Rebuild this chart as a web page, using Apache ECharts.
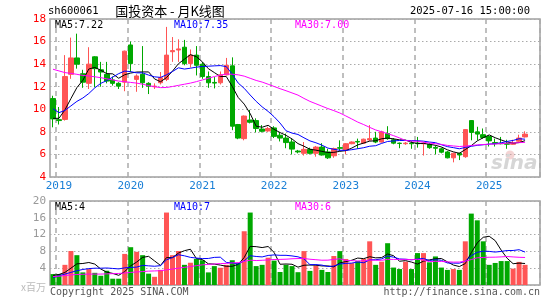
<!DOCTYPE html>
<html><head><meta charset="utf-8">
<script src="https://cdn.jsdelivr.net/npm/echarts/dist/echarts.min.js"></script>
<style>html,body{margin:0;padding:0;background:#fff}#c{width:545px;height:300px}</style>
</head><body><div id="c"></div>
<script>
const months = [
 '2018-12',
 '2019-01','2019-02','2019-03','2019-04','2019-05','2019-06','2019-07','2019-08','2019-09','2019-10','2019-11','2019-12',
 '2020-01','2020-02','2020-03','2020-04','2020-05','2020-06','2020-07','2020-08','2020-09','2020-10','2020-11','2020-12',
 '2021-01','2021-02','2021-03','2021-04','2021-05','2021-06','2021-07','2021-08','2021-09','2021-10','2021-11','2021-12',
 '2022-01','2022-02','2022-03','2022-04','2022-05','2022-06','2022-07','2022-08','2022-09','2022-10','2022-11','2022-12',
 '2023-01','2023-02','2023-03','2023-04','2023-05','2023-06','2023-07','2023-08','2023-09','2023-10','2023-11','2023-12',
 '2024-01','2024-02','2024-03','2024-04','2024-05','2024-06','2024-07','2024-08','2024-09','2024-10','2024-11','2024-12',
 '2025-01','2025-02','2025-03','2025-04','2025-05','2025-06','2025-07'];

const opens = [10.95, 9.08, 9.1, 13.1, 14.55, 13.15, 12.3, 14.65, 13.5, 13.1,
 12.6, 12.3, 12.4, 15.7, 12.65, 13.1, 12.3, 12.0, 12.35, 12.65,
 15.1, 15.25, 15.5, 14.05, 14.8, 14.0, 12.9, 12.38, 12.35, 13.05,
 13.85, 8.65, 7.4, 9.05, 9.0, 8.25, 8.08, 8.35, 7.7, 7.45,
 7.1, 6.3, 6.1, 6.45, 6.1, 6.65, 6.22, 5.88, 6.6, 6.4,
 6.95, 7.15, 7.0, 7.28, 7.45, 7.1, 7.85, 7.3, 7.0, 6.95,
 7.0, 7.0, 6.95, 6.9, 6.62, 6.5, 6.22, 5.7, 6.1, 5.8,
 9.0, 8.0, 7.75, 7.6, 7.05, 6.98, 6.97, 6.9, 7.17, 7.55];
const closes = [9.15, 9.0, 12.9, 14.55, 14.0, 12.4, 14.0, 13.6, 13.3, 12.5,
 12.3, 12.05, 15.15, 14.05, 12.95, 12.35, 12.05, 12.05, 12.8, 14.8,
 15.2, 15.35, 14.05, 14.8, 13.9, 12.9, 12.35, 12.32, 13.05, 13.9,
 8.5, 7.45, 9.4, 8.85, 8.3, 8.05, 8.3, 7.6, 7.45, 7.05,
 6.47, 6.22, 6.45, 6.1, 6.65, 5.95, 5.7, 6.52, 6.55, 6.95,
 7.1, 7.1, 7.35, 7.4, 7.1, 8.0, 7.4, 7.0, 6.97, 7.0,
 6.95, 6.95, 7.0, 6.6, 6.55, 6.2, 5.7, 6.1, 5.95, 8.2,
 7.95, 7.8, 7.5, 7.2, 6.95, 6.95, 6.9, 7.0, 7.45, 7.8];
const lows = [8.4, 8.65, 9.0, 12.7, 13.6, 11.9, 11.8, 11.95, 12.0, 12.3,
 12.1, 11.8, 11.6, 13.3, 11.55, 11.9, 11.35, 11.8, 12.2, 12.5,
 14.2, 14.2, 13.9, 13.7, 13.0, 12.7, 11.9, 11.85, 12.2, 13.0,
 8.15, 7.35, 7.25, 8.75, 7.95, 7.95, 8.0, 7.45, 7.15, 6.55,
 6.0, 6.1, 5.9, 6.0, 5.8, 5.9, 5.6, 5.7, 6.3, 6.0,
 6.9, 6.5, 6.95, 7.2, 7.0, 7.05, 7.3, 6.9, 6.55, 6.85,
 6.5, 6.6, 5.9, 6.5, 6.0, 6.1, 5.65, 5.3, 5.5, 5.7,
 7.25, 7.25, 7.4, 6.7, 6.7, 6.9, 6.5, 6.85, 7.1, 7.5];
const highs = [11.2, 10.2, 14.8, 16.35, 16.7, 13.5, 15.5, 14.7, 14.2, 14.2,
 12.9, 12.4, 15.2, 16.0, 13.1, 15.6, 12.4, 12.3, 13.3, 17.3,
 16.4, 16.2, 16.15, 15.3, 15.6, 14.2, 13.35, 12.85, 13.35, 14.55,
 14.6, 8.7, 9.45, 9.95, 9.2, 8.6, 8.45, 8.5, 7.95, 7.85,
 7.4, 6.4, 7.1, 6.6, 6.75, 7.0, 6.5, 6.6, 7.25, 7.0,
 7.15, 7.4, 7.4, 8.6, 8.0, 8.1, 8.5, 7.45, 7.05, 7.1,
 7.2, 7.55, 7.1, 7.0, 6.8, 6.6, 6.3, 6.15, 6.15, 8.25,
 9.05, 8.45, 8.3, 7.7, 7.4, 7.55, 7.3, 7.3, 7.75, 8.05];
const volumes = [2.6, 2.6, 4.8, 8.1, 7.1, 3.0, 3.8, 2.9, 2.2, 3.4,
 1.5, 1.5, 7.4, 9.0, 7.9, 7.1, 2.7, 1.95, 3.6, 17.25,
 7.1, 8.1, 4.8, 5.3, 6.2, 5.9, 3.0, 4.5, 4.1, 4.8,
 5.9, 5.2, 12.8, 17.25, 4.5, 4.8, 6.5, 5.8, 3.1, 4.8,
 4.5, 3.05, 8.07, 3.36, 4.6, 3.6, 3.1, 6.9, 8.07, 6.2,
 5.2, 5.7, 6.2, 10.4, 4.8, 5.56, 9.95, 4.15, 3.8, 5.56,
 3.8, 7.6, 7.6, 5.4, 6.8, 4.15, 3.6, 3.8, 3.6, 10.4,
 17.0, 15.4, 10.4, 4.8, 5.25, 5.7, 5.7, 3.9, 5.5, 4.8];

const ma5Head = [9.2, 9.2, 9.95, 10.95];
const ma10Head = [10.05, 9.7, 9.9, 10.3, 10.7, 11.0, 11.4, 11.9, 12.3];
const ma30Head = [13.55, 13.4, 13.25, 13.18, 13.1, 13.0, 12.95, 12.88, 12.8, 12.7,
 12.6, 12.5, 12.45, 12.38, 12.32, 12.22, 12.1, 12.0, 11.92, 11.93,
 12.02, 12.12, 12.22, 12.32, 12.45, 12.6, 12.75, 12.9, 13.02];
const vma5Head = [2.3, 2.5, 3.0, 4.0];
const vma10Head = [1.8, 2.2, 2.6, 3.0, 3.4, 3.7, 3.9, 4.0, 4.0];
const vma30Head = [2.0, 2.1, 2.25, 2.4, 2.5, 2.55, 2.6, 2.6, 2.6, 2.65,
 2.7, 2.75, 2.85, 3.0, 3.1, 3.2, 3.3, 3.35, 3.4, 3.6,
 3.8, 4.0, 4.2, 4.4, 4.6, 4.8, 4.9, 5.0, 5.1];

const priceTicks = {min: 4, max: 18, step: 2};
const volTicks = {min: 0, max: 20, step: 4};
const maLabels = ['MA5:7.22', 'MA10:7.35', 'MA30:7.00'];
const volMaLabels = ['MA5:4', 'MA10:7', 'MA30:6'];
const codeText = 'sh600061';
const titleText = '国投资本 - 月K线图';
const dateText = '2025-07-16 15:00:00';
const unitText = 'x百万';
const copyText = 'Copyright 2025 SINA.COM';
const urlText = 'http://finance.sina.com.cn';
const emptySlots = 2; // blank room right of the last month

function movingAvg(vals, n, head) {
  return vals.map((v, i) => {
    if (i < n - 1) return head[i];
    let s = 0;
    for (let k = i - n + 1; k <= i; k++) s += vals[k];
    return +(s / n).toFixed(3);
  });
}

const MONO = '"DejaVu Sans Mono", monospace';
const CJK = '"Noto Sans CJK SC", sans-serif';
const RED = '#ff5555', GREEN = '#00a800';
const MA_COLORS = ['#000000', '#0000ff', '#ff00ff'];

const axisCats = months.concat(new Array(emptySlots).fill(''));
const candle = opens.map((o, i) => [o, closes[i], lows[i], highs[i]]);
const volData = volumes.map((v, i) => ({value: v, itemStyle: {color: closes[i] >= opens[i] ? RED : GREEN}}));
const pMA = [movingAvg(closes, 5, ma5Head), movingAvg(closes, 10, ma10Head), movingAvg(closes, 30, ma30Head)];
const vMA = [movingAvg(volumes, 5, vma5Head), movingAvg(volumes, 10, vma10Head), movingAvg(volumes, 30, vma30Head)];

const isJan = (i, v) => String(v).endsWith('-01');
const vSplit = {show: true, interval: isJan, lineStyle: {color: '#aaaaaa', type: [5, 4], width: 1.5}};
const hSplit = {show: true, lineStyle: {color: '#aaaaaa', type: [1.5, 2.5], width: 1}};

const lineSeries = (data, color, xi) => ({
  type: 'line', data, xAxisIndex: xi, yAxisIndex: xi, symbol: 'none', silent: true,
  lineStyle: {color, width: 1}, itemStyle: {color}, z: 5, animation: false
});

const txt = (x, y, text, color, font, align) => ({
  type: 'text', x, y, silent: true, z: 100,
  style: {text, fill: color, font, textAlign: align || 'left', textVerticalAlign: 'middle'}
});

const option = {
  animation: false,
  backgroundColor: '#ffffff',
  grid: [
    {left: 50, top: 19, width: 490, height: 158, show: true, borderColor: '#a0a0a0', borderWidth: 1.5},
    {left: 50, top: 201, width: 490, height: 84, show: true, borderColor: '#a0a0a0', borderWidth: 1.5}
  ],
  xAxis: [
    {type: 'category', gridIndex: 0, data: axisCats, boundaryGap: true,
     axisLine: {show: false}, axisTick: {show: false},
     axisLabel: {interval: isJan, formatter: v => v.slice(0, 4), color: '#1a7fd6', fontFamily: MONO, fontSize: 11, margin: 4},
     splitLine: vSplit},
    {type: 'category', gridIndex: 1, data: axisCats, boundaryGap: true,
     axisLine: {show: false}, axisTick: {show: false}, axisLabel: {show: false},
     splitLine: vSplit}
  ],
  yAxis: [
    {type: 'value', gridIndex: 0, min: priceTicks.min, max: priceTicks.max, interval: priceTicks.step,
     axisLine: {show: false}, axisTick: {show: false},
     axisLabel: {color: '#ff0000', fontFamily: MONO, fontSize: 11, margin: 4},
     splitLine: hSplit},
    {type: 'value', gridIndex: 1, min: volTicks.min, max: volTicks.max, interval: volTicks.step,
     axisLine: {show: false}, axisTick: {show: false},
     axisLabel: {color: '#999999', fontFamily: MONO, fontSize: 11, margin: 4, formatter: v => v === 0 ? '' : String(v)},
     splitLine: hSplit}
  ],
  series: [
    {type: 'candlestick', xAxisIndex: 0, yAxisIndex: 0, data: candle, barWidth: 5, silent: true,
     itemStyle: {color: RED, color0: GREEN, borderColor: RED, borderColor0: GREEN, borderColorDoji: RED, borderWidth: 1}, z: 3},
    lineSeries(pMA[0], MA_COLORS[0], 0),
    lineSeries(pMA[1], MA_COLORS[1], 0),
    lineSeries(pMA[2], MA_COLORS[2], 0),
    {type: 'bar', xAxisIndex: 1, yAxisIndex: 1, data: volData, barWidth: 5, silent: true, z: 3},
    lineSeries(vMA[0], MA_COLORS[0], 1),
    lineSeries(vMA[1], MA_COLORS[1], 1),
    lineSeries(vMA[2], MA_COLORS[2], 1)
  ],
  graphic: [
    txt(48, 11, codeText, '#000', '10.5px ' + MONO),
    txt(170, 11, titleText, '#000', '13px ' + CJK, 'center'),
    txt(530, 11, dateText, '#000', '10.5px ' + MONO, 'right'),
    txt(55, 25, maLabels[0], MA_COLORS[0], '10px ' + MONO),
    txt(174, 25, maLabels[1], MA_COLORS[1], '10px ' + MONO),
    txt(295, 25, maLabels[2], MA_COLORS[2], '10px ' + MONO),
    txt(55, 207, volMaLabels[0], MA_COLORS[0], '10px ' + MONO),
    txt(174, 207, volMaLabels[1], MA_COLORS[1], '10px ' + MONO),
    txt(295, 207, volMaLabels[2], MA_COLORS[2], '10px ' + MONO),
    txt(46, 287, unitText, '#bbbbbb', '10px ' + CJK, 'right'),
    txt(50, 292, copyText, '#555555', '10px ' + MONO),
    txt(540, 292, urlText, '#555555', '10px ' + MONO, 'right'),
    {type: 'circle', silent: true, z: 1, shape: {cx: 510, cy: 155, r: 4.5}, style: {fill: 'rgba(230,160,160,0.45)', stroke: 'none'}},
    {type: 'text', x: 491, y: 164, silent: true, z: 1,
     style: {text: 'sina', fill: '#d6d6d6', font: 'italic bold 20px "DejaVu Sans", sans-serif', textVerticalAlign: 'middle'}}
  ]
};

const chart = echarts.init(document.getElementById('c'), null, {renderer: 'canvas'});
chart.setOption(option);
</script>
</body></html>
